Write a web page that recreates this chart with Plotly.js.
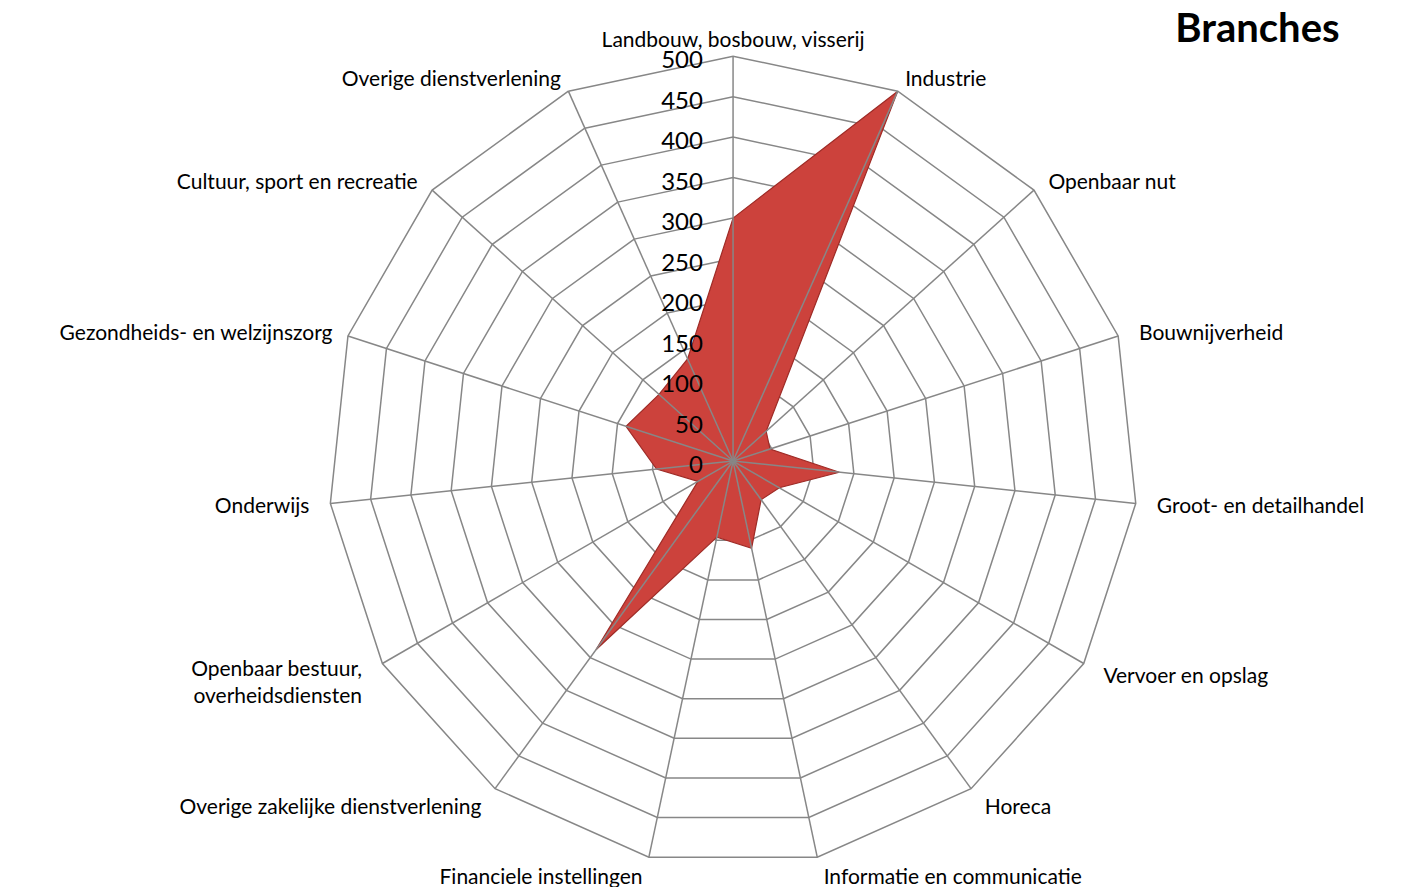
<!DOCTYPE html>
<html><head><meta charset="utf-8">
<script src="https://cdn.plot.ly/plotly-3.0.1.min.js"></script>
<style>html,body{margin:0;padding:0;background:#fff}#chart{width:1405px;height:887px}</style>
</head><body><div id="chart"></div>
<script>
const categories = [
  "Landbouw, bosbouw, visserij",
  "Industrie",
  "Openbaar nut",
  "Bouwnijverheid",
  "Groot- en detailhandel",
  "Vervoer en opslag",
  "Horeca",
  "Informatie en communicatie",
  "Financiele instellingen",
  "Overige zakelijke dienstverlening",
  "Openbaar bestuur, overheidsdiensten",
  "Onderwijs",
  "Gezondheids- en welzijnszorg",
  "Cultuur, sport en recreatie",
  "Overige dienstverlening"
];
const NB = '\u00a0';
const categoryLabels = [
  "Landbouw, bosbouw, visserij",
  NB + "Industrie",
  NB + NB + "Openbaar nut",
  NB + NB + NB + "Bouwnijverheid",
  NB + NB + NB + "Groot- en detailhandel",
  NB + NB + NB + "Vervoer en opslag",
  NB + NB + "Horeca",
  NB + "Informatie en communicatie",
  "Financiele instellingen" + NB,
  "Overige zakelijke dienstverlening" + NB + NB,
  "Openbaar bestuur," + NB + NB + NB + "<br>overheidsdiensten" + NB + NB + NB,
  "Onderwijs" + NB + NB + NB,
  "Gezondheids- en welzijnszorg" + NB + NB,
  "Cultuur, sport en recreatie" + NB + NB,
  "Overige dienstverlening" + NB
];
const values = [300, 500, 55, 48, 132, 66, 59, 110, 96, 288, 50, 95, 139, 123, 138];
const radialTicks = [0, 50, 100, 150, 200, 250, 300, 350, 400, 450, 500];
const radialTickText = ["0", "50", "100", "150", "200", "250", "300", "350", "400", "450", "500"];

const closedCats = categories.concat([categories[0]]);
const closedVals = values.concat([values[0]]);

const GRID = '#878787';
const FONT = 'Lato, "Open Sans", sans-serif';
const dom = {x: [0.2335, 0.8100], y: [0.0237, 0.9367]};

const traces = [
  {
    type: 'scatterpolar', subplot: 'polar',
    r: closedVals, theta: closedCats,
    mode: 'lines', fill: 'toself',
    fillcolor: '#CC423C',
    line: {color: '#9E2B26', width: 1.2},
    hoverinfo: 'skip'
  },
  {
    type: 'scatterpolar', subplot: 'polar2',
    r: [0], theta: [categories[0]],
    mode: 'markers', marker: {size: 9, color: GRID},
    hoverinfo: 'skip'
  }
];

const layout = {
  width: 1405, height: 887,
  margin: {l: 0, r: 0, t: 0, b: 0},
  paper_bgcolor: '#fff',
  showlegend: false,
  title: {
    text: '<b>Branches</b>',
    font: {family: FONT, size: 40, color: '#000'},
    x: 0.895, xanchor: 'center', xref: 'container',
    y: 0.968, yanchor: 'middle', yref: 'container'
  },
  polar: {
    domain: dom,
    gridshape: 'linear',
    bgcolor: 'rgba(0,0,0,0)',
    radialaxis: {
      range: [0, 500], tickvals: radialTicks, showticklabels: false,
      showline: false, ticks: '', gridcolor: GRID, gridwidth: 1.5
    },
    angularaxis: {
      type: 'category', categoryarray: categories,
      tickmode: 'array', tickvals: categories, ticktext: categoryLabels,
      direction: 'clockwise', rotation: 90,
      showgrid: false, showline: true, linecolor: GRID, linewidth: 1.5,
      ticks: '',
      tickfont: {family: FONT, size: 21, color: '#000'}
    }
  },
  polar2: {
    domain: dom,
    gridshape: 'linear',
    bgcolor: 'rgba(0,0,0,0)',
    radialaxis: {
      range: [0, 500], tickvals: radialTicks, ticktext: radialTickText,
      angle: 90, side: 'counterclockwise',
      showgrid: false, showline: false,
      ticks: 'outside', ticklen: 8, tickcolor: 'rgba(0,0,0,0)',
      tickfont: {family: FONT, size: 24, color: '#000'}
    },
    angularaxis: {
      type: 'category', categoryarray: categories,
      direction: 'clockwise', rotation: 90,
      showgrid: true, gridcolor: GRID, gridwidth: 1.5,
      showline: false, showticklabels: false, ticks: ''
    }
  }
};

Plotly.newPlot('chart', traces, layout, {staticPlot: true, displayModeBar: false});
</script>
</body></html>
